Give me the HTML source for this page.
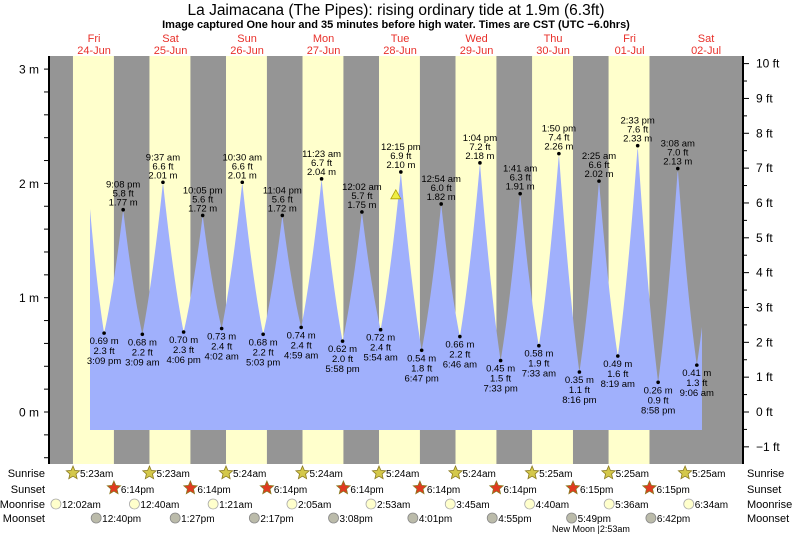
<!DOCTYPE html>
<html><head><meta charset="utf-8"><style>
html,body{margin:0;padding:0;background:#fff;}
svg{display:block;font-family:"Liberation Sans",Arial,sans-serif;}
</style></head><body>
<svg id="s" width="793" height="537" viewBox="0 0 793 537" xmlns="http://www.w3.org/2000/svg">
<rect x="0" y="0" width="793" height="537" fill="#fff"/>
<text x="396" y="15" font-size="15.5" text-anchor="middle" fill="#000">La Jaimacana (The Pipes): rising  ordinary tide at 1.9m (6.3ft)</text>
<text x="396" y="28" font-size="11" font-weight="bold" text-anchor="middle" fill="#000">Image captured One hour and 35 minutes before high water. Times are CST (UTC −6.0hrs)</text>
<g id="g"></g>
</svg>
<script>
var g=document.getElementById('g'),NS="http://www.w3.org/2000/svg";
function el(t,a,txt){var e=document.createElementNS(NS,t);for(var k in a)e.setAttribute(k,a[k]);if(txt!=null)e.textContent=txt;g.appendChild(e);return e;}
function X(t){return 55.8+t*3.1875;}
function Y(h){return 412-114.3*h;}
var L=49,R=743,T=56,B=464;
el('rect',{x:L,y:T,width:R-L,height:B-T,fill:'#959595'});
var days=["Fri","Sat","Sun","Mon","Tue","Wed","Thu","Fri","Sat"];
var dates=["24-Jun","25-Jun","26-Jun","27-Jun","28-Jun","29-Jun","30-Jun","01-Jul","02-Jul"];
var sr=["5:23am","5:23am","5:24am","5:24am","5:24am","5:24am","5:25am","5:25am","5:25am"];
var ss=["6:14pm","6:14pm","6:14pm","6:14pm","6:14pm","6:14pm","6:15pm","6:15pm"];
function hm(s){var m=s.match(/(\d+):(\d+)\s*(am|pm)/);var h=+m[1]%12;if(m[3]=="pm")h+=12;return h+ +m[2]/60;}
for(var d=0;d<8;d++){var a=X(d*24+hm(sr[d])),b=X(d*24+hm(ss[d]));el('rect',{x:a,y:T,width:b-a,height:B-T,fill:'#ffffcc'});}
for(var d=0;d<9;d++){var cx=X(d*24+12);el('text',{x:cx,y:42,'font-size':11,'text-anchor':'middle',fill:'#e8302a'},days[d]);el('text',{x:cx,y:54,'font-size':11,'text-anchor':'middle',fill:'#e8302a'},dates[d]);}
var ex=[[0,"10:30 am",1.85],[0,"3:09 pm",0.69,"2.3 ft"],[0,"9:08 pm",1.77,"5.8 ft"],[1,"3:09 am",0.68,"2.2 ft"],[1,"9:37 am",2.01,"6.6 ft"],[1,"4:06 pm",0.70,"2.3 ft"],[1,"10:05 pm",1.72,"5.6 ft"],[2,"4:02 am",0.73,"2.4 ft"],[2,"10:30 am",2.01,"6.6 ft"],[2,"5:03 pm",0.68,"2.2 ft"],[2,"11:04 pm",1.72,"5.6 ft"],[3,"4:59 am",0.74,"2.4 ft"],[3,"11:23 am",2.04,"6.7 ft"],[3,"5:58 pm",0.62,"2.0 ft"],[4,"12:02 am",1.75,"5.7 ft"],[4,"5:54 am",0.72,"2.4 ft"],[4,"12:15 pm",2.10,"6.9 ft"],[4,"6:47 pm",0.54,"1.8 ft"],[5,"12:54 am",1.82,"6.0 ft"],[5,"6:46 am",0.66,"2.2 ft"],[5,"1:04 pm",2.18,"7.2 ft"],[5,"7:33 pm",0.45,"1.5 ft"],[6,"1:41 am",1.91,"6.3 ft"],[6,"7:33 am",0.58,"1.9 ft"],[6,"1:50 pm",2.26,"7.4 ft"],[6,"8:16 pm",0.35,"1.1 ft"],[7,"2:25 am",2.02,"6.6 ft"],[7,"8:19 am",0.49,"1.6 ft"],[7,"2:33 pm",2.33,"7.6 ft"],[7,"8:58 pm",0.26,"0.9 ft"],[8,"3:08 am",2.13,"7.0 ft"],[8,"9:06 am",0.41,"1.3 ft"],[8,"3:20 pm",2.05]];
var P=ex.map(function(e){return [e[0]*24+hm(e[1]),e[2]];});
function gf(v){return 0.7*v+0.3*v*v;}
function H(t){for(var i=0;i<P.length-1;i++){if(t>=P[i][0]&&t<=P[i+1][0]){var u=(t-P[i][0])/(P[i+1][0]-P[i][0]);var a=P[i][1],b=P[i+1][1];if(b>a)return a+(b-a)*gf(u);return b+(a-b)*gf(1-u);}}return 0;}
var x0=90,x1=702,d="M"+x0+" 430";
for(var x=x0;x<=x1;x+=0.5){var t=(x-55.8)/3.1875;d+=" L"+x+" "+Y(H(t)).toFixed(1);}
d+=" L"+x1+" 430 Z";
el('path',{d:d,fill:'#a0b0fc'});
for(var i=1;i<ex.length-1;i++){var e=ex[i],t=P[i][0],cx=X(t),cy=Y(e[2]),hi=e[2]>1.2;
el('circle',{cx:cx,cy:cy,r:1.8,fill:'#000'});
var fs={'font-size':9.5,'text-anchor':'middle',fill:'#000'};
function tx(y,s){var a=Object.assign({x:cx,y:y},fs);el('text',a,s);}
if(hi){tx(cy-4,e[2].toFixed(2)+" m");tx(cy-13,e[3]);tx(cy-22,e[1]);}
else{tx(cy+11,e[2].toFixed(2)+" m");tx(cy+21,e[3]);tx(cy+31,e[1]);}}
var tx0=X(96+10.67),ty=Y(1.9);
el('polygon',{points:(tx0-5)+","+(ty+4)+" "+(tx0+5)+","+(ty+4)+" "+tx0+","+(ty-5),fill:'#eeee44',stroke:'#b0a000','stroke-width':0.8});
el('line',{x1:L,y1:T,x2:L,y2:B,stroke:'#000','stroke-width':2});
el('line',{x1:R,y1:T,x2:R,y2:B,stroke:'#000','stroke-width':2});
for(var k=-3;k<=15;k++){var y=Y(k*0.2);if(y<T||y>B)continue;el('line',{x1:L-5,y1:y,x2:L,y2:y,stroke:'#000','stroke-width':1});if(k%5==0)el('text',{x:L-10,y:y+4.5,'font-size':12,'text-anchor':'end',fill:'#000'},(k/5)+" m");}
for(var k=-2;k<=21;k++){var y=412-34.84*k/2;if(y<T||y>B)continue;el('line',{x1:R,y1:y,x2:R+(k%2==0?6:4),y2:y,stroke:'#000','stroke-width':1});if(k%2==0)el('text',{x:R+13,y:y+4,'font-size':12,fill:'#000'},(k<0?"−":"")+Math.abs(k/2)+" ft");}
var rows=[["Sunrise",477],["Sunset",493],["Moonrise",508],["Moonset",522]];
rows.forEach(function(r){el('text',{x:45,y:r[1],'font-size':11,'text-anchor':'end',fill:'#000'},r[0]);el('text',{x:747,y:r[1],'font-size':11,fill:'#000'},r[0]);});
function star(cx,cy,fill){var p=[];for(var i=0;i<10;i++){var a=-Math.PI/2+i*Math.PI/5,rr=i%2?3.2:7;p.push((cx+rr*Math.cos(a)).toFixed(1)+","+(cy+rr*Math.sin(a)).toFixed(1));}el('polygon',{points:p.join(" "),fill:fill,stroke:'#8a7a20','stroke-width':0.8});}
for(var d2=0;d2<9;d2++){var cx=X(d2*24+hm(sr[d2]));star(cx,473,'#d4c84a');el('text',{x:cx+7,y:477,'font-size':10,fill:'#000'},sr[d2]);}
for(var d2=0;d2<8;d2++){var cx=X(d2*24+hm(ss[d2]));star(cx,488,'#e03a20');el('text',{x:cx+7,y:493,'font-size':10,fill:'#000'},ss[d2]);}
var mr=["12:02am","12:40am","1:21am","2:05am","2:53am","3:45am","4:40am","5:36am","6:34am"];
var ms=["12:40pm","1:27pm","2:17pm","3:08pm","4:01pm","4:55pm","5:49pm","6:42pm"];
for(var d2=0;d2<9;d2++){var cx=X(d2*24+hm(mr[d2]));el('circle',{cx:cx,cy:504,r:5,fill:'#ffffcc',stroke:'#aaa','stroke-width':0.8});el('text',{x:cx+6,y:508,'font-size':10,fill:'#000'},mr[d2]);}
for(var d2=0;d2<8;d2++){var cx=X(d2*24+hm(ms[d2]));el('circle',{cx:cx,cy:518,r:5,fill:'#bbbbaa',stroke:'#888','stroke-width':0.8});el('text',{x:cx+6,y:522,'font-size':10,fill:'#000'},ms[d2]);}
el('text',{x:552,y:532,'font-size':9,fill:'#000'},"New Moon |2:53am");
</script>
</body></html>
